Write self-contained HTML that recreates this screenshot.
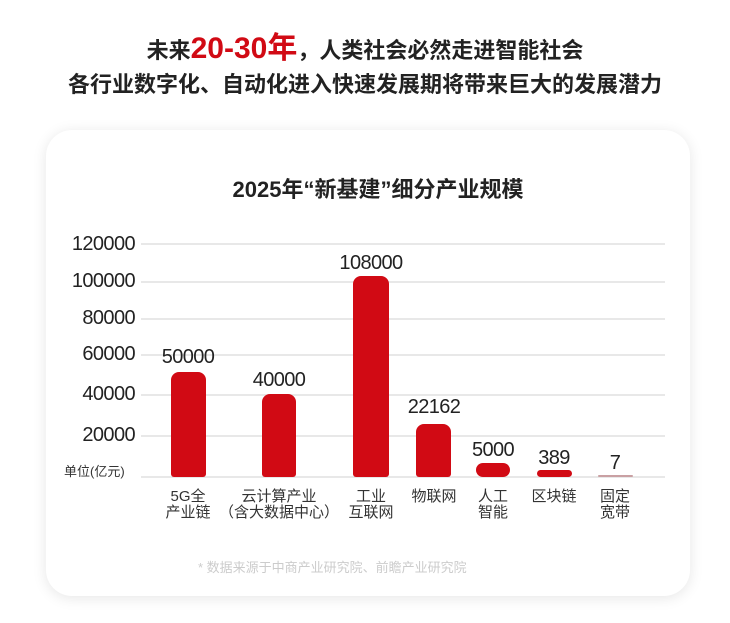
<!DOCTYPE html>
<html><head><meta charset="utf-8"><style>
body{margin:0;width:730px;height:623px;background:#fff;font-family:"Liberation Sans","Noto Sans CJK SC",sans-serif;position:relative;overflow:hidden}
.a{position:absolute;white-space:nowrap}
.card{position:absolute;left:46px;top:130px;width:644px;height:466px;border-radius:26px;background:#fff;box-shadow:0 2px 14px rgba(0,0,0,0.10)}
.g{position:absolute;left:141px;width:524px;height:2px;background:#e8e8e8}
.b{position:absolute;background:#d10a14;border-radius:8px 8px 3px 3px}
.yl{position:absolute;right:595px;font-size:20px;color:#222;line-height:20px;letter-spacing:-0.6px}
.v{position:absolute;font-size:20px;color:#222;transform:translateX(-50%);line-height:20px;letter-spacing:-0.6px}
.c{position:absolute;font-size:15px;color:#333;text-align:center;transform:translateX(-50%);line-height:16px;white-space:nowrap}
</style></head><body>
<div class="a" style="left:0;width:730px;top:32px;text-align:center;font-size:22px;font-weight:bold;color:#222;line-height:34px">未来<span style="color:#d10a14;font-size:30px">20-30年</span>，人类社会必然走进智能社会</div>
<div class="a" style="left:0;width:730px;top:70px;text-align:center;font-size:22px;font-weight:bold;color:#222;line-height:30px">各行业数字化、自动化进入快速发展期将带来巨大的发展潜力</div>
<div class="card"></div>
<div class="a" style="left:0;width:756px;top:175px;text-align:center;font-size:22px;font-weight:bold;color:#222;line-height:30px">2025年“新基建”细分产业规模</div>
<div class="g" style="top:243px"></div><div class="g" style="top:281px"></div><div class="g" style="top:318px"></div><div class="g" style="top:354px"></div><div class="g" style="top:394px"></div><div class="g" style="top:435px"></div><div class="g" style="top:476px"></div>
<div class="yl" style="top:234px">120000</div><div class="yl" style="top:271px">100000</div><div class="yl" style="top:308px">80000</div><div class="yl" style="top:344px">60000</div><div class="yl" style="top:384px">40000</div><div class="yl" style="top:425px">20000</div>
<div class="a" style="left:64px;top:461px;font-size:13px;color:#333">单位(亿元)</div>
<div class="b" style="left:171px;width:35px;top:372px;height:105px"></div>
<div class="b" style="left:262px;width:34px;top:394px;height:83px"></div>
<div class="b" style="left:353px;width:36px;top:276px;height:201px"></div>
<div class="b" style="left:416px;width:35px;top:424px;height:53px"></div>
<div class="b" style="left:476px;width:34px;top:463px;height:14px;border-radius:7px"></div>
<div class="b" style="left:537px;width:35px;top:470px;height:7px;border-radius:4px"></div>
<div class="b" style="left:598px;width:35px;top:475px;height:2px;border-radius:1px;background:#c9a0a3"></div>
<div class="v" style="left:188px;top:347px">50000</div>
<div class="v" style="left:279px;top:370px">40000</div>
<div class="v" style="left:371px;top:253px">108000</div>
<div class="v" style="left:434px;top:397px">22162</div>
<div class="v" style="left:493px;top:440px">5000</div>
<div class="v" style="left:554px;top:448px">389</div>
<div class="v" style="left:615px;top:453px">7</div>
<div class="c" style="left:188px;top:489px">5G全<br>产业链</div>
<div class="c" style="left:279px;top:489px">云计算产业<br>（含大数据中心）</div>
<div class="c" style="left:371px;top:489px">工业<br>互联网</div>
<div class="c" style="left:434px;top:489px">物联网</div>
<div class="c" style="left:493px;top:489px">人工<br>智能</div>
<div class="c" style="left:554px;top:489px">区块链</div>
<div class="c" style="left:615px;top:489px">固定<br>宽带</div>
<div class="a" style="left:198px;top:557px;font-size:13px;color:#ccc">* 数据来源于中商产业研究院、前瞻产业研究院</div>
</body></html>
